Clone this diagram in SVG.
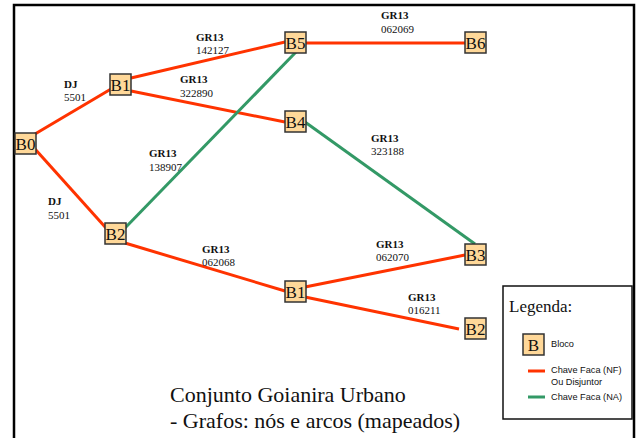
<svg xmlns="http://www.w3.org/2000/svg" width="638" height="438" viewBox="0 0 638 438">
<style>
.nf{stroke:#ff3300;stroke-width:3;fill:none}
.na{stroke:#339966;stroke-width:3;fill:none}
.box{fill:#ffd899;stroke:#333;stroke-width:1.5}
.nl{font-family:"Liberation Serif",serif;font-size:17px;fill:#111;text-anchor:middle}
.el{font-family:"Liberation Serif",serif;font-size:11px;fill:#111}
.b{font-weight:bold}
.lg{font-family:"Liberation Sans",Arial,sans-serif;font-size:9.2px;fill:#111}
.tt{font-family:"Liberation Serif",serif;font-size:22px;fill:#111}
</style>
<rect x="0" y="0" width="638" height="438" fill="#fff"/>
<path d="M14 440 V5 H634 V440" fill="none" stroke="#000" stroke-width="2.5"/>
<g id="connectors">
<line class="nf" x1="35" y1="134" x2="111" y2="89"/>
<line class="nf" x1="35" y1="149" x2="106" y2="228"/>
<line class="nf" x1="131" y1="78" x2="285" y2="42"/>
<line class="nf" x1="131" y1="91" x2="285" y2="122"/>
<line class="na" x1="125" y1="228" x2="296" y2="52"/>
<line class="nf" x1="305" y1="43" x2="465" y2="43"/>
<line class="na" x1="305" y1="122" x2="475" y2="244"/>
<line class="nf" x1="125" y1="243" x2="285" y2="291"/>
<line class="nf" x1="305" y1="287" x2="465" y2="255"/>
<line class="nf" x1="305" y1="297" x2="459" y2="329"/>
</g>
<g id="edge-labels" class="el">
<text x="64" y="88"><tspan class="b">DJ</tspan><tspan x="64" y="101">5501</tspan></text>
<text x="48" y="205"><tspan class="b">DJ</tspan><tspan x="48" y="219">5501</tspan></text>
<text x="196" y="41"><tspan class="b">GR13</tspan><tspan x="196" y="54">142127</tspan></text>
<text x="180" y="83"><tspan class="b">GR13</tspan><tspan x="180" y="97">322890</tspan></text>
<text x="149" y="157"><tspan class="b">GR13</tspan><tspan x="149" y="171">138907</tspan></text>
<text x="381" y="19"><tspan class="b">GR13</tspan><tspan x="381" y="33">062069</tspan></text>
<text x="371" y="142"><tspan class="b">GR13</tspan><tspan x="371" y="155">323188</tspan></text>
<text x="202" y="253"><tspan class="b">GR13</tspan><tspan x="202" y="266">062068</tspan></text>
<text x="376" y="248"><tspan class="b">GR13</tspan><tspan x="376" y="261">062070</tspan></text>
<text x="408" y="301"><tspan class="b">GR13</tspan><tspan x="408" y="314">016211</tspan></text>
</g>
<g id="B0"><rect class="box" x="15" y="133" width="21" height="21"/><text class="nl" x="25.5" y="150">B0</text></g>
<g id="B1"><rect class="box" x="110" y="74" width="21" height="21"/><text class="nl" x="120.5" y="91">B1</text></g>
<g id="B5"><rect class="box" x="285" y="32" width="21" height="21"/><text class="nl" x="295.5" y="49">B5</text></g>
<g id="B4"><rect class="box" x="285" y="111" width="21" height="21"/><text class="nl" x="295.5" y="128">B4</text></g>
<g id="B6"><rect class="box" x="465" y="32" width="21" height="21"/><text class="nl" x="475.5" y="49">B6</text></g>
<g id="B2a"><rect class="box" x="105" y="223" width="21" height="21"/><text class="nl" x="115.5" y="240">B2</text></g>
<g id="B1b"><rect class="box" x="285" y="281" width="21" height="21"/><text class="nl" x="295.5" y="298">B1</text></g>
<g id="B3"><rect class="box" x="465" y="244" width="21" height="21"/><text class="nl" x="475.5" y="261">B3</text></g>
<g id="B2b"><rect class="box" x="465" y="318" width="21" height="21"/><text class="nl" x="475.5" y="335">B2</text></g>
<g id="legend">
<rect x="503" y="286" width="129" height="133" fill="#fff" stroke="#111" stroke-width="1.5"/>
<text x="509" y="312" font-family="Liberation Serif,serif" font-size="17" fill="#111">Legenda:</text>
<rect class="box" x="523" y="334" width="21" height="21"/><text class="nl" x="533.5" y="351">B</text>
<text class="lg" x="551" y="347">Bloco</text>
<line class="nf" x1="528" y1="371" x2="545" y2="371"/>
<text class="lg" x="551" y="373">Chave Faca (NF)</text>
<text class="lg" x="551" y="385">Ou Disjuntor</text>
<line class="na" x1="528" y1="397" x2="545" y2="397"/>
<text class="lg" x="551" y="400">Chave Faca (NA)</text>
</g>
<g id="title">
<text class="tt" x="170" y="402">Conjunto Goianira Urbano</text>
<text class="tt" x="170" y="428">- Grafos: nós e arcos (mapeados)</text>
</g>
</svg>
